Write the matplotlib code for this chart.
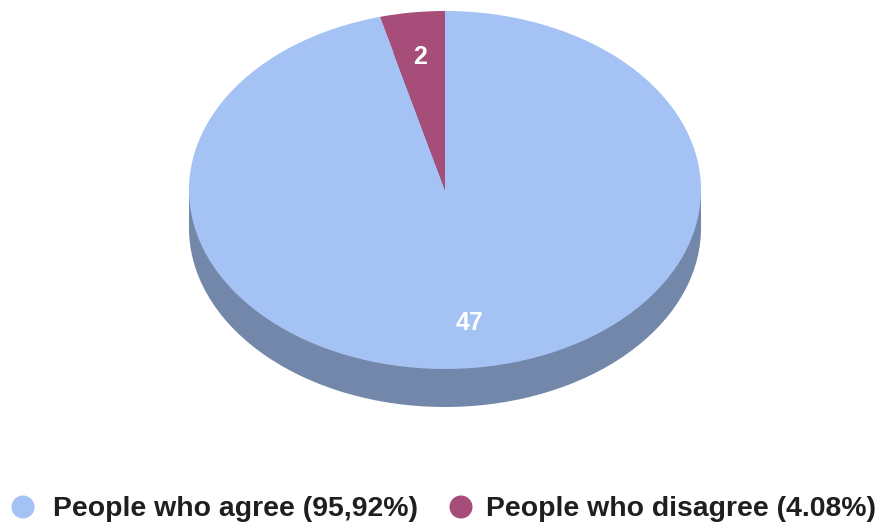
import matplotlib
matplotlib.use("Agg")
import matplotlib.pyplot as plt
from matplotlib.patches import Rectangle, Circle

categories = ["People who agree (95,92%)", "People who disagree (4.08%)"]
values = [47, 2]
top_colors = ["#a4c2f4", "#a64d79"]
side_colors = ["#7387aa", "#743555"]

W, H = 881, 524
cx, cy = 445, 190      # pixel centre of the top ellipse
rx, ry = 256, 179      # pixel semi-axes
depth = 38             # pixel thickness

fig = plt.figure(figsize=(W / 100, H / 100), dpi=100)
ax = fig.add_axes([0, 0, 1, 1])

total = sum(values)

# side (bottom pie + band)
dy = depth / ry
ax.pie(values, radius=1, center=(0, -dy), startangle=90, counterclock=False,
       colors=side_colors, wedgeprops=dict(linewidth=0), normalize=True)
ax.add_patch(Rectangle((-1, -dy), 2, dy, facecolor=side_colors[0], linewidth=0))

# top pie
wedges, texts, autotexts = ax.pie(
    values, radius=1, center=(0, 0), startangle=90, counterclock=False,
    colors=top_colors, wedgeprops=dict(linewidth=0), normalize=True,
    autopct=lambda p: f"{round(p * total / 100):d}", pctdistance=0.75,
    textprops=dict(color="white", fontsize=18, fontweight="bold",
                   family="Liberation Sans"))

ax.set_aspect("auto")
ax.set_xlim(-cx / rx, (W - cx) / rx)
ax.set_ylim(-(H - cy) / ry, cy / ry)
ax.axis("off")

# legend (manual)
marker_x = [23, 461]
text_x = [53, 486]
for i, cat in enumerate(categories):
    fig.patches.append(Circle((marker_x[i], H - 507), 11.5,
                              transform=None, facecolor=top_colors[i],
                              edgecolor="none"))
    fig.text(text_x[i] / W, 1 - 516 / H, cat, ha="left", va="baseline",
             fontsize=20.4, fontweight="bold", family="Liberation Sans",
             color="#1f1f1f")

fig.savefig("out.png", dpi=100)
